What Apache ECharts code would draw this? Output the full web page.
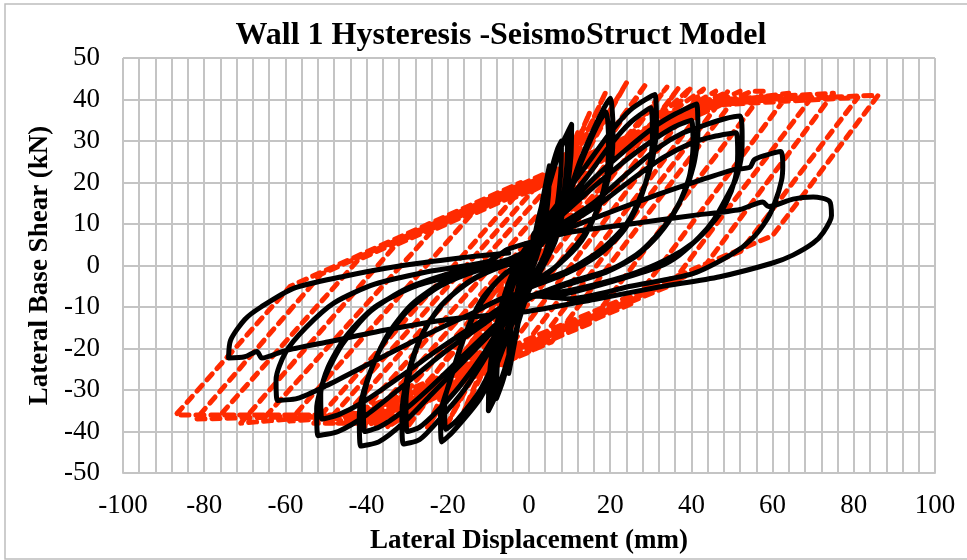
<!DOCTYPE html>
<html>
<head>
<meta charset="utf-8">
<script src="https://cdn.jsdelivr.net/npm/echarts@6/dist/echarts.min.js"></script>
<style>
html,body{margin:0;padding:0;background:#fff;}
#chart{width:967px;height:560px;}
</style>
</head>
<body>
<div id="chart"></div>
<script>
// ---- data ----
const chartTitle = 'Wall 1 Hysteresis -SeismoStruct Model';
const xTitle = 'Lateral Displacement (mm)';
const yTitle = 'Lateral Base Shear (kN)';
const seriesNames = ['SeismoStruct Model', 'Experiment'];

// SeismoStruct model (red dashed): [displacement mm, shear kN]
const modelXY = [
  [0,0],[3,12],[-1,-4],[-3,-12],[1,4],
  [6,20],[-2,-8],[-6,-20],[2,8],
  [9,27],[-3,-11],[-9,-26],[3,11],
  [12,32],[-5,-14],[-12,-31],[5,14],
  [15,37],[-7,-17],[-16,-35],[7,17],
  [19,42],[-10,-20],[-20,-38],[10,20],
  [24,44],[-20,-28],[-25,-39],[18,28],
  [29,44],[-26,-30],[-30,-39],[24,31],
  [34,43],[-23.7,-32],[-35,-39],[25.6,27.6],
  [37,43],[-18.9,-29.8],[-38,-39],[21,25.9],
  [40,43],[-14.3,-27.6],[-41,-39],[16.3,24.1],
  [43,42.5],[-9,-25.1],[-44,-38.5],[11,22],
  [46,42],[-3.8,-22.8],[-40.6,-38],[-47,-38],[5.6,19.9],
  [49,42],[0.9,-20.5],[-41.3,-38],[-50,-38],[1,18.1],
  [52,42],[5.6,-18.4],[-41.8,-38],[-53,-38],[-3.7,16.3],[54.8,42],
  [58,42],[14.9,-14],[-38.1,-36],[-59,-37.5],[-14.4,12.1],[48,39.5],
  [64,41.5],[25.5,-9.1],[-41.8,-37],[-65,-36.5],[-23.7,8.5],[44.6,38.5],
  [70,41],[34.8,-4.8],[-40.5,-35.5],[-71,-38],[-32.9,4.9],[46.9,40],
  [75,41.5],[42.7,-0.9],[-41.8,-36],[-76,-36],[-42,1.4],[42.3,38.5],
  [81,40.5],[52.1,3.4],[-43,-36],[-82,-37],[-51.2,-2.1],[43.5,39.5],
  [86,41],[60,7.2],[-44.2,-36],[-87,-36],[-58.8,-5],[-2,20]
];

// Experimental wall test (black solid): [displacement mm, shear kN]
const testXY = [
  [0,0],[1,5],[2,10],[3,14],[2.8,9],[1.5,3],[0,-1],[-1,-5],[-2,-10],[-3,-14],[-2.8,-9],[-1.5,-3],[0,1],
  [1.5,6],[3,14],[4.2,20],[5,24],[4.8,17],[3.5,8],[1.5,1],[-1,-5],[-2.5,-13],[-4,-21],[-5,-26],[-4.8,-18],[-3.5,-9],[-1.5,-1],[0,2],
  [1,4],[3,13],[5.5,23],[7,28],[8,30],[7.8,22],[6.5,12],[4,3],[1,-3],[-2,-11],[-4.5,-21],[-6.5,-28],[-8,-32],[-7.8,-24],[-6.5,-14],[-4,-5],[-1,1],
  [1,5],[3.5,14],[6,24],[8,29],[9.5,32],[9.3,24],[8,14],[5.5,5],[2,-2],[-1,-8],[-3.5,-17],[-6,-26],[-8,-31],[-9,-33],[-8.8,-25],[-7.5,-15],[-5,-6],[-2,0],
  [1,5],[4,16],[7,26],[9,31],[10.5,34],[10.3,26],[9,16],[6.5,6],[3,-1],[0,-6],[-3,-15],[-6,-25],[-8.5,-32],[-10,-35],[-9.8,-27],[-8.5,-17],[-6,-7],[-3,0],
  [3,6],[6.5,11],[9.3,16],[12.5,25],[16,33],[18.5,38],[20,40.3],[20.7,33],[20.3,25],[18,16],[14,8],[8,1],[2,-4],
  [-1,-6],[-4.5,-15],[-8,-24],[-12,-32],[-18.7,-40],[-21.5,-42.5],[-21.8,-36],[-19.5,-28],[-17,-20],[-13,-11],[-8,-4],[-2,1],
  [3,5],[6.5,10],[9.5,16],[12.5,24],[15.5,31],[17.5,35],[19,37],[19.6,30],[19.2,22],[17,14],[13,6],[7,0],[1,-4],
  [-1,-5],[-4.5,-13],[-8,-22],[-12,-30],[-17.5,-37],[-20.5,-39.5],[-20.8,-33],[-18.5,-25],[-15.5,-16],[-11.5,-8],[-6,-2],[0,2],
  [2,8],[8,16],[14,24],[20,32],[25,37.5],[31,41.2],[31.4,34],[30.5,26],[28,18],[24,10],[18,4],[10,-1],[2,-4],
  [0,-5],[-5,-12],[-10,-21],[-16,-30],[-22,-37],[-27,-42],[-31,-43],[-31.3,-36],[-30,-27],[-27,-18],[-22,-10],[-15,-4],[-7,0],[2,3],
  [2,7],[8,14],[14,21],[20,29],[25,34.5],[30,38],[30.4,31],[29.5,23],[27,15],[23,8],[17,2.5],[9,-2],[1,-5],
  [-1,-6],[-6,-13],[-11,-21],[-17,-29],[-22.5,-35],[-27,-39],[-30,-40],[-30.3,-33],[-29,-24],[-26,-16],[-21,-9],[-14,-3.5],[-6,0],[1,2],
  [1,7],[8,13],[16,21],[24,28],[31,33.5],[36,36.5],[41.3,38.9],[41.6,32],[40.5,24],[37.5,16],[33,9],[27,3],[20,-1],[10,-4],
  [0,-8],[-8,-15],[-16,-23],[-24,-31],[-31,-38],[-37,-42.5],[-41.5,-43.5],[-41.8,-36],[-40,-28],[-36,-19],[-30,-11],[-22,-5],[-12,-1],[0,2],
  [1,6],[8,12],[16,19],[24,25.5],[31,30.5],[36,33.5],[40,35],[40.4,29],[39.5,21.5],[36.5,14],[32,7.5],[26,2],[18,-2],[8,-5],
  [-1,-8],[-9,-15],[-17,-22.5],[-25,-30],[-31.5,-35.5],[-37,-39],[-40.5,-40],[-40.8,-33],[-39,-25.5],[-35,-17],[-29,-9.5],[-21,-4],[-11,-0.5],[0,2],
  [2,6],[8,10],[15.8,15],[24,22],[32,28.5],[38,32],[43.8,34],[48,35.3],[52,36],[52.5,31],[52.4,27],[51,21],[48.7,16.5],[45.5,11],[42,6.9],[37,2.5],[32,-0.3],[20,-4],[8,-7],
  [-2,-8],[-11,-14],[-21,-21],[-31,-29],[-40,-36],[-47,-40],[-52,-41],[-52.3,-34.5],[-50.5,-27.5],[-46,-19],[-39,-11],[-30,-5.5],[-18,-1.5],[-5,1.5],
  [2,5],[9,9.5],[17,14.5],[25,20.5],[33,26],[40,29.5],[46,31.2],[51,32],[51.4,27],[50.8,21],[48.5,15],[45,10],[40.5,5.5],[34,1.5],[24,-2.5],[10,-6],
  [-3,-8],[-12,-13.5],[-22,-20],[-32,-27],[-41,-33],[-47,-36],[-51,-37],[-51.3,-31],[-49.5,-24.5],[-45,-17],[-38,-10],[-28,-5],[-15,-1.5],[-3,1.5],
  [0,5],[15,11],[30,16.5],[42,20.5],[50,23],[54.4,23.7],[55.5,25.5],[58,26.5],[62,27.5],[62.5,24],[62.2,20.5],[60.5,15],[58.5,10.9],[55,6.5],[50.3,2.9],[40.5,-1.9],[25,-5],[10,-8],
  [-3,-7],[-15,-12],[-28,-18],[-40,-24],[-50,-29],[-57,-32],[-62,-32.5],[-62.3,-27.5],[-60,-21],[-55,-15],[-48,-9],[-38,-4.5],[-25,-1.5],[-10,1],
  [-5,4],[10,8],[25,10],[40,12],[52,13.5],[57.6,15.3],[59,14.2],[65,16],[70,16.5],[74,15.5],[74.5,12],[72.5,8],[70,5.4],[65,2.5],[60,0.6],[47,-2.7],[32,-5.2],[17,-8],[0,-11],
  [-20,-13],[-35,-15.5],[-50,-18.5],[-60,-20.5],[-65.8,-22.3],[-67,-20.7],[-70,-22],[-74,-22.3],[-73.5,-18],[-70,-13],[-66,-10],[-58,-5.5],[-46,-2.7],[-33,-0.3],[-17,1.8],[-5,3]
];

// ---- chart ----
const FONT = '"Liberation Serif", "Times New Roman", serif';
const GRID = '#c4c4c4';
const chart = echarts.init(document.getElementById('chart'), null, {renderer: 'canvas'});
chart.setOption({
  animation: false,
  backgroundColor: '#ffffff',
  title: {
    text: chartTitle,
    left: 496, top: 15, textAlign: 'center',
    textStyle: {fontFamily: FONT, fontWeight: 'bold', fontSize: 32, color: '#000'}
  },
  graphic: [{
    type: 'rect', silent: true, z: -1,
    shape: {x: 5, y: 4, width: 970, height: 555},
    style: {fill: 'none', stroke: '#bdbdbd', lineWidth: 1.5}
  }],
  grid: {left: 123, top: 58, right: 32, bottom: 85, containLabel: false},
  xAxis: {
    type: 'value', min: -100, max: 100, interval: 20,
    name: xTitle, nameLocation: 'middle', nameGap: 55,
    nameTextStyle: {fontFamily: FONT, fontWeight: 'bold', fontSize: 27, color: '#000'},
    axisLine: {show: true, onZero: false, lineStyle: {color: GRID, width: 2}},
    axisTick: {show: false},
    axisLabel: {fontFamily: FONT, fontSize: 27, color: '#000', margin: 19},
    splitLine: {show: true, lineStyle: {color: GRID, width: 2}},
    minorTick: {show: false, splitNumber: 5},
    minorSplitLine: {show: true, lineStyle: {color: GRID, width: 2}}
  },
  yAxis: {
    type: 'value', min: -50, max: 50, interval: 10,
    name: yTitle, nameLocation: 'middle', nameGap: 67, nameRotate: 90,
    nameTextStyle: {fontFamily: FONT, fontWeight: 'bold', fontSize: 27, color: '#000'},
    axisLine: {show: true, lineStyle: {color: GRID, width: 2}},
    axisTick: {show: false},
    axisLabel: {fontFamily: FONT, fontSize: 27, color: '#000', margin: 23},
    splitLine: {show: true, lineStyle: {color: GRID, width: 2}}
  },
  series: [
    {
      name: seriesNames[0], type: 'line', data: modelXY, showSymbol: false, symbol: 'none',
      z: 2, clip: true,
      lineStyle: {color: '#ff2a00', width: 5, type: [8, 7], cap: 'round', join: 'round'}
    },
    {
      name: seriesNames[1], type: 'line', data: testXY, showSymbol: false, symbol: 'none',
      z: 3, clip: true, smooth: 0.25,
      lineStyle: {color: '#000000', width: 5, cap: 'round', join: 'round'}
    }
  ]
});
</script>
</body>
</html>
